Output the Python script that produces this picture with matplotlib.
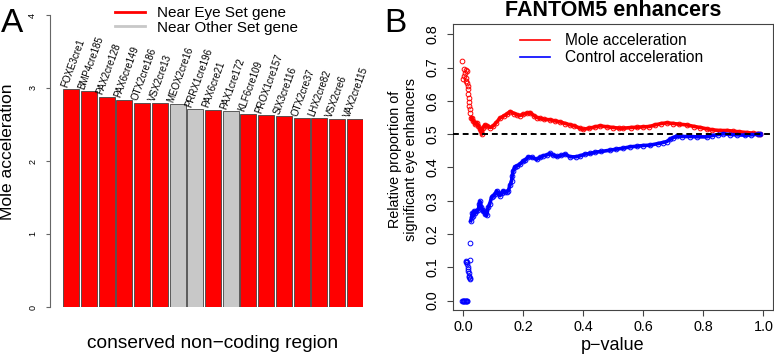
import numpy as np
import matplotlib
matplotlib.use('Agg')
from matplotlib import pyplot as plt
from matplotlib.lines import Line2D

plt.rcParams['font.family'] = ['Liberation Sans', 'DejaVu Sans']

# panel A: top conserved non-coding regions
cnr_names = ['FOXE3cre1', 'BMP4cre185', 'PAX2cre128', 'PAX6cre149', 'OTX2cre186',
             'VSX2cre13', 'MEOX2cre16', 'PRRX1cre196', 'PAX6cre21', 'PAX1cre172',
             'KLF6cre109', 'PROX1cre157', 'SIX3cre116', 'OTX2cre37', 'LHX2cre82',
             'VSX2cre6', 'VAX2cre115']
mole_acc = [2.98, 2.96, 2.88, 2.84, 2.80, 2.79, 2.78, 2.71, 2.70, 2.68,
            2.65, 2.63, 2.61, 2.59, 2.59, 2.57, 2.57]
near_eye = [True, True, True, True, True, True, False, False, True, False,
            True, True, True, True, True, True, True]

# panel B: relative proportion vs p-value
red_p_early = [-0.003, 0.0, 0.002, 0.004, 0.006, 0.008, 0.009, 0.010, 0.012, 0.013,
               0.015, 0.016, 0.017, 0.018, 0.019, 0.020, 0.021, 0.023, 0.025]
red_v_early = [0.72, 0.665, 0.675, 0.695, 0.685, 0.693, 0.67, 0.66, 0.69, 0.655,
               0.645, 0.635, 0.62, 0.61, 0.598, 0.585, 0.575, 0.565, 0.55]
red_p = [0.028, 0.033, 0.039, 0.045, 0.050, 0.055, 0.060, 0.062, 0.066, 0.072,
         0.080, 0.090, 0.100, 0.110, 0.122, 0.135, 0.145, 0.156, 0.170, 0.180,
         0.189, 0.200, 0.212, 0.222, 0.235, 0.245, 0.256, 0.270, 0.289, 0.305,
         0.322, 0.340, 0.356, 0.370, 0.389, 0.400, 0.420, 0.440, 0.456, 0.480,
         0.500, 0.520, 0.533, 0.560, 0.580, 0.600, 0.620, 0.640, 0.660, 0.678,
         0.700, 0.720, 0.744, 0.770, 0.790, 0.811, 0.830, 0.856, 0.880, 0.900,
         0.920, 0.944, 0.965, 0.983, 0.990]
red_v = [0.548, 0.540, 0.530, 0.535, 0.525, 0.515, 0.510, 0.500, 0.520, 0.528,
         0.525, 0.520, 0.525, 0.535, 0.548, 0.555, 0.560, 0.568, 0.562, 0.558,
         0.556, 0.560, 0.563, 0.565, 0.556, 0.550, 0.548, 0.545, 0.543, 0.540,
         0.537, 0.532, 0.528, 0.525, 0.518, 0.515, 0.518, 0.522, 0.525, 0.522,
         0.520, 0.518, 0.518, 0.520, 0.521, 0.522, 0.523, 0.528, 0.532, 0.534,
         0.532, 0.530, 0.528, 0.523, 0.520, 0.516, 0.513, 0.511, 0.511, 0.509,
         0.507, 0.505, 0.503, 0.502, 0.500]

blue_p_early = [-0.005, -0.002, 0.0, 0.002, 0.004, 0.006, 0.008, 0.010, 0.012, 0.014,
                0.008, 0.010, 0.012, 0.014, 0.015, 0.016, 0.017, 0.018, 0.019, 0.020,
                0.021, 0.022, 0.022, 0.022]
blue_v_early = [0.0, 0.0, 0.0, 0.0, 0.0, 0.0, 0.0, 0.0, 0.0, 0.0,
                0.117, 0.118, 0.115, 0.110, 0.100, 0.095, 0.088, 0.082, 0.075, 0.070,
                0.066, 0.068, 0.122, 0.172]
blue_p = [0.025, 0.028, 0.030, 0.033, 0.036, 0.039, 0.044, 0.050, 0.053, 0.056,
          0.060, 0.064, 0.067, 0.072, 0.078, 0.083, 0.088, 0.094, 0.100, 0.106,
          0.111, 0.117, 0.122, 0.128, 0.133, 0.139, 0.144, 0.150, 0.156, 0.161,
          0.163, 0.166, 0.172, 0.180, 0.189, 0.198, 0.206, 0.217, 0.230, 0.244,
          0.255, 0.267, 0.280, 0.289, 0.300, 0.311, 0.325, 0.339, 0.356, 0.375,
          0.390, 0.405, 0.422, 0.440, 0.460, 0.489, 0.510, 0.533, 0.556, 0.580,
          0.600, 0.622, 0.650, 0.665, 0.678, 0.690, 0.700, 0.711, 0.730, 0.756,
          0.780, 0.811, 0.830, 0.850, 0.867, 0.890, 0.911, 0.940, 0.960, 0.983,
          0.990]
blue_v = [0.240, 0.250, 0.262, 0.255, 0.268, 0.262, 0.270, 0.272, 0.290, 0.298,
          0.280, 0.272, 0.270, 0.260, 0.256, 0.280, 0.290, 0.310, 0.315, 0.320,
          0.330, 0.322, 0.315, 0.322, 0.330, 0.325, 0.327, 0.330, 0.348, 0.360,
          0.375, 0.390, 0.402, 0.405, 0.410, 0.418, 0.422, 0.432, 0.430, 0.424,
          0.430, 0.435, 0.438, 0.442, 0.437, 0.433, 0.436, 0.440, 0.432, 0.432,
          0.435, 0.440, 0.442, 0.446, 0.448, 0.452, 0.455, 0.458, 0.462, 0.464,
          0.466, 0.467, 0.472, 0.475, 0.478, 0.485, 0.490, 0.494, 0.493, 0.493,
          0.492, 0.492, 0.496, 0.499, 0.501, 0.499, 0.498, 0.497, 0.498, 0.500,
          0.500]

W, H = 774, 355
fig = plt.figure(figsize=(W / 100, H / 100), dpi=100)


def box(x0, y0, x1, y1):
    # pixel box (from top-left) -> figure fraction
    return [x0 / W, 1 - y1 / H, (x1 - x0) / W, (y1 - y0) / H]


# ---- panel A ----
axA = fig.add_axes(box(63, 15, 363, 307))
xs = np.arange(len(cnr_names))
cols = ['#ff0000' if e else '#c8c8c8' for e in near_eye]
axA.bar(xs, mole_acc, width=0.9, align='edge', color=cols,
        edgecolor='#444444', linewidth=0.6)
for x, h, name in zip(xs, mole_acc, cnr_names):
    axA.text(x + 0.3, h + 0.01, name, rotation=70, rotation_mode='anchor',
             ha='left', va='bottom', fontsize=7)
axA.set_xlim(-0.02, 16.92)
axA.set_ylim(0, 4)
for s in ['top', 'right', 'bottom']:
    axA.spines[s].set_visible(False)
axA.spines['left'].set_position(('outward', 9.4))
axA.spines['left'].set_bounds(0, 4)
axA.spines['left'].set_color('#666666')
axA.spines['left'].set_linewidth(0.8)
axA.set_xticks([])
axA.set_yticks([0, 1, 2, 3, 4])
axA.tick_params(axis='y', length=2.9, width=0.8, color='#666666',
                labelsize=6.5, pad=6.3)
for lab in axA.get_yticklabels():
    lab.set_rotation(90)
    lab.set_va('center')

fig.text(213 / W, 1 - 343 / H, 'conserved non\u2212coding region',
         ha='center', va='center', fontsize=13.8)
fig.text(8 / W, 1 - 152 / H, 'Mole acceleration', rotation=90,
         ha='center', va='center', fontsize=12.5)
fig.legend([Line2D([], [], color='#ff0000', lw=2),
            Line2D([], [], color='#c8c8c8', lw=2)],
           ['Near Eye Set gene', 'Near Other Set gene'],
           loc='upper left', bbox_to_anchor=(115 / W, 1 - 6 / H),
           frameon=False, fontsize=11, handlelength=1.96, handletextpad=0.78,
           borderpad=0, borderaxespad=0, labelspacing=0.05)
fig.text(1 / W, 1 - 32 / H, 'A', fontsize=24, va='baseline', ha='left')

# ---- panel B ----
axB = fig.add_axes(box(452.7, 24.3, 772.7, 310))
axB.axhline(0.5, color='black', ls=(0, (3, 2)), lw=1.4, zorder=3)
mk = dict(marker='o', ms=3.4, mfc='none', mew=0.7, ls='none')
axB.plot(red_p_early, red_v_early, color='#ff0000', **mk)
axB.plot(red_p, red_v, color='#ff0000', lw=2.6, marker='o', ms=3.4, mfc='none', mew=0.7)
axB.plot(blue_p_early, blue_v_early, color='#0000ff', **mk)
axB.plot(blue_p, blue_v, color='#0000ff', lw=2.6, marker='o', ms=3.4, mfc='none', mew=0.7)
axB.set_xlim(-0.0353, 1.031)
axB.set_ylim(-0.028, 0.83)
axB.set_xticks(np.arange(0, 1.01, 0.2))
axB.set_xticklabels(['0.0', '0.2', '0.4', '0.6', '0.8', '1.0'])
axB.set_yticks(np.arange(0, 0.81, 0.1))
axB.set_yticklabels(['0.0', '0.1', '0.2', '0.3', '0.4', '0.5', '0.6', '0.7', '0.8'])
axB.tick_params(length=4.3, width=0.8, color='#444444', labelsize=10.4)
axB.tick_params(axis='y', pad=5)
axB.tick_params(axis='x', pad=3)
for lab in axB.get_yticklabels():
    lab.set_rotation(90)
    lab.set_va('center')
for s in axB.spines.values():
    s.set_color('#444444')
    s.set_linewidth(0.8)

fig.text(612.7 / W, 1 - 11 / H, 'FANTOM5 enhancers', ha='center', va='center',
         fontsize=15.5, fontweight='bold')
fig.text(612.7 / W, 1 - 345 / H, 'p\u2212value', ha='center', va='center', fontsize=13)
fig.text(403 / W, 1 - 159.5 / H, 'Relative proportion of\nsignificant eye enhancers',
         rotation=90, ha='center', va='center', multialignment='center',
         fontsize=10.4, linespacing=1.2)
axB.legend([Line2D([], [], color='#ff0000', lw=1.2),
            Line2D([], [], color='#0000ff', lw=1.2)],
           ['Mole acceleration', 'Control acceleration'],
           loc='upper left', bbox_to_anchor=(520 / W, 1 - 33 / H),
           bbox_transform=fig.transFigure,
           frameon=False, fontsize=11.2, handlelength=1.93, handletextpad=0.95,
           borderpad=0, borderaxespad=0, labelspacing=0.15)
fig.text(384 / W, 1 - 32 / H, 'B', fontsize=24, va='baseline', ha='left')

fig.savefig('out.png', dpi=100)
